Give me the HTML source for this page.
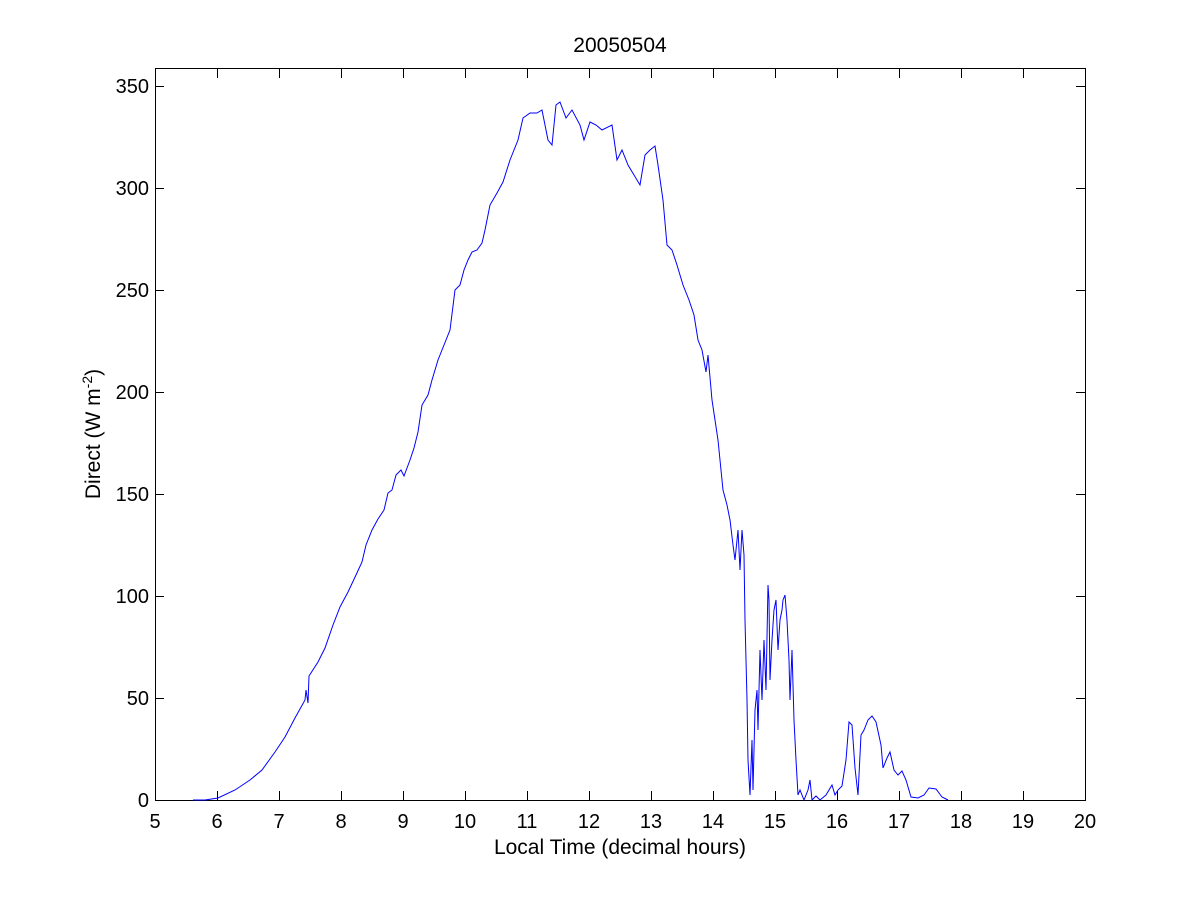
<!DOCTYPE html>
<html><head><meta charset="utf-8"><style>
body{margin:0;background:#fff}
svg text{font-family:"Liberation Sans",Arial,sans-serif;fill:#000}
</style></head><body>
<svg width="1200" height="900" viewBox="0 0 1200 900" xmlns="http://www.w3.org/2000/svg">
<rect width="1200" height="900" fill="#fff"/>
<rect x="155.5" y="68.5" width="930" height="732" fill="#fff" stroke="#000" stroke-width="1"/>
<g stroke="#000" stroke-width="1">
<path d="M155.5 800v-9M217.5 800v-9M279.5 800v-9M341.5 800v-9M403.5 800v-9M465.5 800v-9M527.5 800v-9M589.5 800v-9M651.5 800v-9M713.5 800v-9M775.5 800v-9M837.5 800v-9M899.5 800v-9M961.5 800v-9M1023.5 800v-9M1085.5 800v-9"/>
<path d="M155.5 69v9M217.5 69v9M279.5 69v9M341.5 69v9M403.5 69v9M465.5 69v9M527.5 69v9M589.5 69v9M651.5 69v9M713.5 69v9M775.5 69v9M837.5 69v9M899.5 69v9M961.5 69v9M1023.5 69v9M1085.5 69v9"/>
<path d="M155 800.5h9M155 698.5h9M155 596.5h9M155 494.5h9M155 392.5h9M155 290.5h9M155 188.5h9M155 86.5h9"/>
<path d="M1085 800.5h-9M1085 698.5h-9M1085 596.5h-9M1085 494.5h-9M1085 392.5h-9M1085 290.5h-9M1085 188.5h-9M1085 86.5h-9"/>
</g>
<g font-size="20" text-anchor="middle">
<text x="155" y="828">5</text><text x="217" y="828">6</text><text x="279" y="828">7</text><text x="341" y="828">8</text><text x="403" y="828">9</text><text x="465" y="828">10</text><text x="527" y="828">11</text><text x="589" y="828">12</text><text x="651" y="828">13</text><text x="713" y="828">14</text><text x="775" y="828">15</text><text x="837" y="828">16</text><text x="899" y="828">17</text><text x="961" y="828">18</text><text x="1023" y="828">19</text><text x="1085" y="828">20</text>
</g>
<g font-size="20" text-anchor="end">
<text x="149" y="807">0</text><text x="149" y="705">50</text><text x="149" y="603">100</text><text x="149" y="501">150</text><text x="149" y="399">200</text><text x="149" y="297">250</text><text x="149" y="195">300</text><text x="149" y="93">350</text>
</g>
<text x="620" y="854" font-size="21" text-anchor="middle">Local Time (decimal hours)</text>
<text x="620" y="52" font-size="21" text-anchor="middle">20050504</text>
<text transform="translate(100,434) rotate(-90)" font-size="21" text-anchor="middle">Direct (W m<tspan dy="-8" font-size="14">-2</tspan><tspan dy="8">)</tspan></text>
<polyline fill="none" stroke="#0000ff" stroke-width="1" points="193,800 205,800 218,798 235,790 250,780 262,770 275,752 285,737 295,718 305,700 306,690 308,703 309,676 318,662 325,648 333,625 340,607 348,592 356,575 362,562 366,545 372,530 378,519 384,510 388,493 392,490 396,475 401,470 404,476 410,460 414,448 418,432 422,405 428,395 432,380 438,360 444,345 450,330 455,290 460,285 464,270 468,260 472,252 477,250 482,243 485,230 490,205 497,193 503,182 510,160 518,140 523,118 530,113 537,113 542,110 548,140 552,145 556,105 560,102 566,118 572,110 580,125 584,140 590,122 596,125 602,130 612,125 617,160 622,150 628,165 634,175 640,185 645,155 650,150 655,146 658,165 663,200 667,245 672,250 677,265 683,285 689,300 694,315 698,340 702,350 706,372 708,355 712,400 715,420 718,440 723,490 727,505 730,520 733,545 735,560 738,530 740,570 742,530 744,555 745,620 746,660 747,700 748,760 750,795 752,740 753,790 755,710 757,690 758,730 760,650 762,700 764,640 766,690 768,585 769,600 770,680 772,640 774,610 776,600 778,650 780,620 782,610 783,600 785,595 787,620 789,660 790,700 792,650 794,720 796,760 798,795 800,790 804,800 808,790 810,780 812,800 816,796 820,800 826,795 832,785 835,795 838,790 842,786 846,760 849,722 852,725 855,768 858,795 861,735 864,730 868,720 872,716 876,722 881,745 883,768 887,758 890,752 894,770 898,775 902,771 906,780 911,797 918,798 924,795 929,788 936,789 942,797 948,800"/>
</svg>
</body></html>
